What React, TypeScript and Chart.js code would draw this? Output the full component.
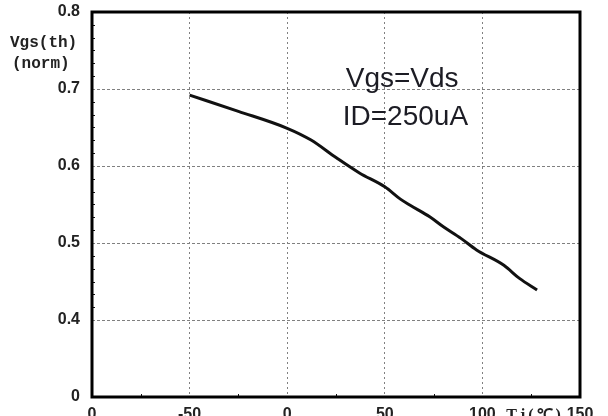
import React, { useEffect, useRef } from "react";
import { Chart, registerables } from "chart.js";

Chart.register(...registerables);

// Junction temperature (°C) and normalized threshold voltage
const tempC = [-50, -25, 0, 12, 25, 37, 50, 58, 63, 73, 80, 89, 97, 111, 119, 128];
const vgsNorm = [0.692, 0.671, 0.649, 0.634, 0.611, 0.591, 0.573, 0.557, 0.549, 0.534, 0.521, 0.506, 0.491, 0.471, 0.454, 0.439];

// axis ticks (the y axis is broken: the bottom tick 0.3 is labelled "0")
const xTickValues = [-100, -50, 0, 50, 100, 150];
const xTickLabels = ["0", "-50", "0", "50", "100", "150"];
const yTickValues = [0.3, 0.4, 0.5, 0.6, 0.7, 0.8];
const yTickLabels = ["0", "0.4", "0.5", "0.6", "0.7", "0.8"];

const annotationLines = ["Vgs=Vds", "ID=250uA"];
const yAxisTitle = ["Vgs(th)", "(norm)"];
const xAxisUnit = "Tj(\u2103)";

export default function App() {
  const ref = useRef<HTMLCanvasElement | null>(null);

  useEffect(() => {
    const canvas = ref.current!;
    const decor = {
      id: "decor",
      beforeDatasetsDraw(chart: any) {
        const { ctx, chartArea } = chart;
        const xs = chart.scales.x;
        const ys = chart.scales.y;
        ctx.save();
        ctx.strokeStyle = "#111";
        ctx.lineWidth = 1;
        // minor ticks on bottom axis
        [-75, -25, 25, 75, 125].forEach((v) => {
          const px = Math.round(xs.getPixelForValue(v)) + 0.5;
          ctx.beginPath();
          ctx.moveTo(px, chartArea.bottom);
          ctx.lineTo(px, chartArea.bottom - 3);
          ctx.stroke();
        });
        // minor ticks on left axis
        for (let i = 0; i < 5; i++) {
          for (let k = 1; k < 6; k++) {
            const v = 0.3 + i * 0.1 + k * (0.1 / 6) + 0.1;
            if (v >= 0.8) continue;
            const py = Math.round(ys.getPixelForValue(v)) + 0.5;
            ctx.beginPath();
            ctx.moveTo(chartArea.left, py);
            ctx.lineTo(chartArea.left + 3, py);
            ctx.stroke();
          }
        }
        ctx.restore();
      },
      afterDraw(chart: any) {
        const { ctx, chartArea } = chart;
        const xs = chart.scales.x;
        const ys = chart.scales.y;
        ctx.save();
        // frame
        ctx.strokeStyle = "#000";
        ctx.lineWidth = 3;
        ctx.strokeRect(chartArea.left, chartArea.top, chartArea.right - chartArea.left, chartArea.bottom - chartArea.top);
        // annotation
        ctx.fillStyle = "#1c1c24";
        ctx.font = '28px "Liberation Sans", Arial, sans-serif';
        ctx.textAlign = "left";
        ctx.textBaseline = "alphabetic";
        const ax = xs.getPixelForValue(30);
        ctx.fillText(annotationLines[0], ax, ys.getPixelForValue(0.7025));
        ctx.fillText(annotationLines[1], ax - 3, ys.getPixelForValue(0.6535));
        // y axis title
        ctx.fillStyle = "#222";
        ctx.font = 'bold 16px "Liberation Mono", monospace';
        ctx.fillText(yAxisTitle[0], 10, ys.getPixelForValue(0.754));
        ctx.fillText(yAxisTitle[1], 12, ys.getPixelForValue(0.727));
        // x unit label
        ctx.font = 'bold 16px "Liberation Serif", serif';
        ctx.textAlign = "center";
        ctx.textBaseline = "top";
        (ctx as any).letterSpacing = "3px";
        ctx.fillText(xAxisUnit, xs.getPixelForValue(127), chartArea.bottom + 11);
        ctx.restore();
      },
    };

    const chart = new Chart(canvas, {
      type: "line",
      data: {
        datasets: [
          {
            data: tempC.map((t, i) => ({ x: t, y: vgsNorm[i] })),
            borderColor: "#111",
            borderWidth: 3,
            pointRadius: 0,
            cubicInterpolationMode: "monotone",
            fill: false,
          },
        ],
      },
      options: {
        animation: false,
        responsive: false,
        maintainAspectRatio: false,
        layout: { padding: { top: 12, right: 28, left: 0, bottom: 0 } },
        plugins: { legend: { display: false }, tooltip: { enabled: false } },
        scales: {
          x: {
            type: "linear",
            min: -100,
            max: 150,
            afterBuildTicks: (s: any) => {
              s.ticks = xTickValues.map((v) => ({ value: v }));
            },
            afterFit: (s: any) => {
              s.height = 43;
              s.paddingLeft = 0;
              s.paddingRight = 0;
            },
            ticks: {
              autoSkip: false,
              maxRotation: 0,
              padding: 8,
              color: "#222",
              font: { family: '"Liberation Sans", Arial, sans-serif', size: 16, weight: "bold" },
              callback: (v: any) => {
                const i = xTickValues.indexOf(Number(v));
                return i >= 0 ? xTickLabels[i] : "";
              },
            },
            grid: {
              color: (c: any) => (c.tick && (c.tick.value === -100 || c.tick.value === 150) ? "rgba(0,0,0,0)" : "#808080"),
              lineWidth: 1,
              drawTicks: false,
            },
            border: { display: false, dash: [2, 3] },
          },
          y: {
            type: "linear",
            min: 0.3,
            max: 0.8,
            afterBuildTicks: (s: any) => {
              s.ticks = yTickValues.map((v) => ({ value: v }));
            },
            afterFit: (s: any) => {
              s.width = 92;
              s.paddingTop = 0;
              s.paddingBottom = 0;
            },
            ticks: {
              padding: 12,
              color: "#222",
              font: { family: '"Liberation Sans", Arial, sans-serif', size: 16, weight: "bold" },
              callback: (v: any) => {
                const i = yTickValues.findIndex((t) => Math.abs(t - Number(v)) < 1e-6);
                return i >= 0 ? yTickLabels[i] : "";
              },
            },
            grid: {
              color: (c: any) =>
                c.tick && (Math.abs(c.tick.value - 0.3) < 1e-6 || Math.abs(c.tick.value - 0.8) < 1e-6) ? "rgba(0,0,0,0)" : "#808080",
              lineWidth: 1,
              drawTicks: false,
            },
            border: { display: false, dash: [3, 2] },
          },
        },
      },
      plugins: [decor],
    });
    return () => chart.destroy();
  }, []);

  return (
    <div style={{ position: "fixed", left: 0, top: 0, width: 608, height: 416, overflow: "hidden", background: "#fff" }}>
      <canvas ref={ref} width={608} height={440} style={{ display: "block", width: 608, height: 440 }} />
    </div>
  );
}
